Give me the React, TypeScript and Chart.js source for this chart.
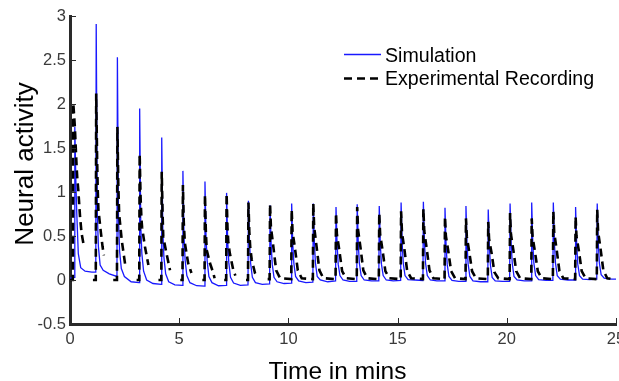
import React, { useEffect, useRef } from "react";
import { Chart, registerables } from "chart.js";

Chart.register(...registerables);

// ---------- data ----------
const seriesNames = ["Simulation", "Experimental Recording"];
const xTickValues = [0, 5, 10, 15, 20, 25];
const yTickValues = [-0.5, 0, 0.5, 1, 1.5, 2, 2.5, 3];
const xTitle = "Time in mins";
const yTitle = "Neural activity";

// Simulation trace: [time (min), activity]
const simulation: [number, number][] = [
  [0, 0.02], [0.2, 0.03], [0.22, 1.74], [0.27, 1.1], [0.31, 0.76], [0.38, 0.3], [0.49, 0.14], [0.69, 0.1], [1.0, 0.09], [1.18, 0.09],
  [1.2, 2.91], [1.25, 0.76], [1.3, 0.38], [1.38, 0.17], [1.52, 0.11], [1.8, 0.07], [2.15, 0.04],
  [2.17, 2.53], [2.22, 0.7], [2.27, 0.33], [2.35, 0.13], [2.49, 0.04], [2.8, -0.02], [3.17, -0.03],
  [3.19, 1.95], [3.24, 0.62], [3.29, 0.3], [3.37, 0.1], [3.51, 0.0], [3.8, -0.04], [4.18, -0.05],
  [4.2, 1.62], [4.25, 0.55], [4.3, 0.26], [4.38, 0.07], [4.52, -0.02], [4.8, -0.055], [5.15, -0.06],
  [5.17, 1.24], [5.22, 0.5], [5.27, 0.23], [5.35, 0.05], [5.49, -0.03], [5.8, -0.065], [6.16, -0.07],
  [6.18, 1.12], [6.23, 0.47], [6.28, 0.22], [6.36, 0.04], [6.5, -0.03], [6.8, -0.065], [7.15, -0.06],
  [7.17, 0.99], [7.22, 0.44], [7.27, 0.2], [7.35, 0.03], [7.49, -0.035], [7.8, -0.06], [8.15, -0.055],
  [8.17, 0.9], [8.22, 0.42], [8.27, 0.19], [8.35, 0.03], [8.49, -0.03], [8.8, -0.05], [9.14, -0.045],
  [9.16, 0.85], [9.21, 0.4], [9.26, 0.18], [9.34, 0.03], [9.48, -0.02], [9.8, -0.04], [10.13, -0.035],
  [10.15, 0.87], [10.2, 0.41], [10.25, 0.19], [10.33, 0.04], [10.47, -0.01], [10.8, -0.03], [11.12, -0.025],
  [11.14, 0.87], [11.19, 0.41], [11.24, 0.19], [11.32, 0.04], [11.46, 0.0], [11.8, -0.02], [12.16, -0.01],
  [12.18, 0.83], [12.23, 0.4], [12.28, 0.18], [12.36, 0.05], [12.5, 0.0], [12.8, -0.015], [13.13, -0.015],
  [13.15, 0.86], [13.2, 0.41], [13.25, 0.19], [13.33, 0.05], [13.47, 0.0], [13.8, -0.01], [14.14, -0.01],
  [14.16, 0.84], [14.21, 0.4], [14.26, 0.18], [14.34, 0.05], [14.48, 0.0], [14.8, -0.01], [15.14, -0.005],
  [15.16, 0.88], [15.21, 0.41], [15.26, 0.19], [15.34, 0.05], [15.48, 0.005], [15.8, 0.0], [16.16, -0.005],
  [16.18, 0.89], [16.23, 0.42], [16.28, 0.19], [16.36, 0.05], [16.5, 0.0], [16.8, -0.01], [17.15, -0.01],
  [17.17, 0.82], [17.22, 0.39], [17.27, 0.18], [17.35, 0.04], [17.49, -0.005], [17.8, -0.015], [18.11, -0.015],
  [18.13, 0.84], [18.18, 0.4], [18.23, 0.18], [18.31, 0.04], [18.45, -0.01], [18.8, -0.02], [19.13, -0.02],
  [19.15, 0.8], [19.2, 0.38], [19.25, 0.17], [19.33, 0.03], [19.47, -0.01], [19.8, -0.015], [20.13, -0.015],
  [20.15, 0.87], [20.2, 0.41], [20.25, 0.19], [20.33, 0.04], [20.47, 0.0], [20.8, -0.01], [21.12, -0.01],
  [21.14, 0.88], [21.19, 0.42], [21.24, 0.19], [21.32, 0.05], [21.46, 0.005], [21.8, -0.005], [22.11, -0.005],
  [22.13, 0.88], [22.18, 0.42], [22.23, 0.19], [22.31, 0.05], [22.45, 0.01], [22.8, 0.0], [23.13, 0.0],
  [23.15, 0.83], [23.2, 0.4], [23.25, 0.18], [23.33, 0.05], [23.47, 0.01], [23.8, 0.005], [24.12, 0.01],
  [24.14, 0.87], [24.19, 0.41], [24.24, 0.19], [24.32, 0.06], [24.46, 0.02], [24.8, 0.01], [25, 0.01],
];

// Experimental recording: [time (min), activity]; null = no recorded sample
const experimental: [number, number | null][] = [
  [0, 0], [0.13, 0], [0.15, 2.01], [0.22, 1.75], [0.3, 1.3], [0.33, 1.17], [0.38, 1.02], [0.46, 0.72], [0.53, 0.53], [0.61, 0.42], [0.7, null],
  [1.05, 0], [1.18, 0], [1.2, 2.12], [1.24, 1.4], [1.27, 1.02], [1.3, 0.8], [1.4, 0.57], [1.49, 0.38], [1.55, 0.28], [1.6, null],
  [1.98, 0], [2.15, 0], [2.17, 1.74], [2.21, 1.1], [2.25, 0.75], [2.37, 0.45], [2.54, 0.15], [2.6, null],
  [3.05, 0], [3.17, 0], [3.19, 1.43], [3.23, 0.95], [3.27, 0.7], [3.3, 0.6], [3.43, 0.38], [3.59, 0.17], [3.65, null],
  [4.05, 0], [4.18, 0], [4.2, 1.23], [4.24, 0.75], [4.27, 0.49], [4.42, 0.3], [4.58, 0.11], [4.65, null],
  [5.05, 0], [5.15, 0], [5.17, 1.08], [5.21, 0.65], [5.26, 0.42], [5.41, 0.19], [5.56, 0.08], [5.6, null],
  [6.06, 0], [6.16, 0], [6.18, 0.97], [6.22, 0.55], [6.26, 0.34], [6.41, 0.19], [6.56, 0.08], [6.62, 0.02], [6.7, null],
  [7.06, 0], [7.15, 0], [7.17, 0.98], [7.21, 0.6], [7.25, 0.42], [7.32, 0.3], [7.47, 0.12], [7.57, 0.05], [7.65, null],
  [8.06, 0], [8.15, 0], [8.17, 0.88], [8.21, 0.55], [8.25, 0.38], [8.32, 0.23], [8.47, 0.08], [8.57, 0.03], [8.65, null],
  [9.05, 0.01], [9.14, 0.01], [9.16, 0.86], [9.2, 0.6], [9.31, 0.38], [9.44, 0.11], [9.62, 0.02], [10.13, 0.01],
  [10.15, 0.8], [10.19, 0.55], [10.3, 0.36], [10.43, 0.11], [10.61, 0.02], [11.12, 0.01],
  [11.14, 0.87], [11.18, 0.6], [11.29, 0.38], [11.42, 0.11], [11.6, 0.02], [12.16, 0.01],
  [12.18, 0.76], [12.22, 0.52], [12.33, 0.34], [12.46, 0.1], [12.64, 0.02], [13.13, 0.01],
  [13.15, 0.83], [13.19, 0.57], [13.3, 0.37], [13.43, 0.11], [13.61, 0.02], [14.14, 0.01],
  [14.16, 0.76], [14.2, 0.52], [14.31, 0.34], [14.44, 0.1], [14.62, 0.02], [15.14, 0.01],
  [15.16, 0.78], [15.2, 0.54], [15.31, 0.35], [15.44, 0.1], [15.62, 0.02], [16.16, 0.01],
  [16.18, 0.81], [16.22, 0.56], [16.33, 0.36], [16.46, 0.11], [16.64, 0.02], [17.15, 0.01],
  [17.17, 0.72], [17.21, 0.5], [17.32, 0.33], [17.45, 0.1], [17.63, 0.02], [18.11, 0.01],
  [18.13, 0.7], [18.17, 0.49], [18.28, 0.32], [18.41, 0.1], [18.59, 0.02], [19.13, 0.01],
  [19.15, 0.66], [19.19, 0.46], [19.3, 0.31], [19.43, 0.09], [19.61, 0.02], [20.13, 0.01],
  [20.15, 0.76], [20.19, 0.52], [20.3, 0.34], [20.43, 0.1], [20.61, 0.02], [21.12, 0.01],
  [21.14, 0.7], [21.18, 0.49], [21.29, 0.32], [21.42, 0.1], [21.6, 0.02], [22.11, 0.01],
  [22.13, 0.78], [22.17, 0.54], [22.28, 0.35], [22.41, 0.1], [22.59, 0.02], [23.13, 0.01],
  [23.15, 0.72], [23.19, 0.5], [23.3, 0.33], [23.43, 0.1], [23.61, 0.02], [24.12, 0.01],
  [24.14, 0.8], [24.18, 0.55], [24.29, 0.36], [24.42, 0.11], [24.6, 0.02], [24.9, 0.01],
];

// ---------- styling ----------
const FONT = "'Liberation Sans', Arial, sans-serif";
const AXIS_COLOR = "#2a2a2a";
const TICK_TEXT = "#3a3a3a";
const SIM_COLOR = "rgb(25, 25, 255)";
const EXP_COLOR = "#000000";
const EXP_DASH = [8, 5];

const overlayPlugin = {
  id: "matlabOverlay",
  afterDraw(chart: any) {
    const { ctx, chartArea, scales } = chart;
    const { left, right, top, bottom } = chartArea;
    ctx.save();
    // inward tick marks
    ctx.strokeStyle = AXIS_COLOR;
    ctx.lineWidth = 1;
    ctx.setLineDash([]);
    ctx.beginPath();
    for (const v of yTickValues) {
      const y = Math.round(scales.y.getPixelForValue(v)) + 0.5;
      ctx.moveTo(left, y);
      ctx.lineTo(left + 6, y);
    }
    for (const v of xTickValues) {
      const x = Math.round(scales.x.getPixelForValue(v)) + 0.5;
      ctx.moveTo(x, bottom);
      ctx.lineTo(x, bottom - 6);
    }
    ctx.stroke();

    // legend
    const lx0 = left + 274;
    const lx1 = left + 311;
    const tx = left + 315;
    ctx.lineWidth = 1.4;
    ctx.strokeStyle = SIM_COLOR;
    ctx.beginPath();
    ctx.moveTo(lx0, top + 38.5);
    ctx.lineTo(lx1, top + 38.5);
    ctx.stroke();
    ctx.lineWidth = 2.6;
    ctx.strokeStyle = EXP_COLOR;
    ctx.setLineDash(EXP_DASH);
    ctx.beginPath();
    ctx.moveTo(lx0, top + 62.5);
    ctx.lineTo(lx1, top + 62.5);
    ctx.stroke();
    ctx.setLineDash([]);
    ctx.fillStyle = "#000";
    ctx.font = `19.6px ${FONT}`;
    ctx.textAlign = "left";
    ctx.textBaseline = "alphabetic";
    ctx.fillText(seriesNames[0], tx, top + 46);
    ctx.fillText(seriesNames[1], tx, top + 69);

    // axis titles
    ctx.font = `24.5px ${FONT}`;
    ctx.textAlign = "center";
    ctx.fillText(xTitle, (left + right) / 2 - 5.5, 379);
    ctx.save();
    ctx.font = `26px ${FONT}`;
    ctx.translate(33, (top + bottom) / 2 - 6);
    ctx.rotate(-Math.PI / 2);
    ctx.fillText(yTitle, 0, 0);
    ctx.restore();
    ctx.restore();
  },
};

export default function App() {
  const canvasRef = useRef<HTMLCanvasElement | null>(null);

  useEffect(() => {
    if (!canvasRef.current) return;
    const chart = new Chart(canvasRef.current, {
      type: "line",
      data: {
        datasets: [
          {
            label: seriesNames[1],
            data: experimental.map(([x, y]) => ({ x, y })),
            borderColor: EXP_COLOR,
            borderWidth: 2.6,
            borderDash: EXP_DASH,
            pointRadius: 0,
            tension: 0,
            spanGaps: false,
            order: 0,
          },
          {
            label: seriesNames[0],
            data: simulation.map(([x, y]) => ({ x, y })),
            borderColor: SIM_COLOR,
            borderWidth: 1.3,
            pointRadius: 0,
            tension: 0,
            order: 1,
          },
        ],
      },
      options: {
        animation: false,
        responsive: false,
        maintainAspectRatio: false,
        devicePixelRatio: 1,
        layout: { padding: { left: 0, right: 3, top: 16, bottom: 0 } },
        plugins: {
          legend: { display: false },
          tooltip: { enabled: false },
        },
        scales: {
          x: {
            type: "linear",
            min: 0,
            max: 25,
            grid: { display: false, drawTicks: false },
            border: { display: true, color: AXIS_COLOR, width: 3 },
            afterBuildTicks: (s: any) => {
              s.ticks = xTickValues.map((value) => ({ value }));
            },
            ticks: {
              color: TICK_TEXT,
              font: { family: FONT, size: 16.5 },
              padding: 6,
              maxRotation: 0,
              autoSkip: false,
              callback: (v: any) => String(v),
            },
            afterFit: (s: any) => {
              s.height = 57;
              s.paddingLeft = 0;
              s.paddingRight = 0;
            },
          },
          y: {
            type: "linear",
            min: -0.5,
            max: 3,
            grid: { display: false, drawTicks: false },
            border: { display: true, color: AXIS_COLOR, width: 3 },
            afterBuildTicks: (s: any) => {
              s.ticks = yTickValues.map((value) => ({ value }));
            },
            ticks: {
              color: TICK_TEXT,
              font: { family: FONT, size: 16.5 },
              padding: 4,
              autoSkip: false,
              callback: (v: any) => String(v),
            },
            afterFit: (s: any) => {
              s.width = 70;
              s.paddingTop = 0;
              s.paddingBottom = 0;
            },
          },
        },
      },
      plugins: [overlayPlugin],
    });
    return () => chart.destroy();
  }, []);

  return (
    <div style={{ position: "fixed", left: 0, top: 0, width: 619, height: 381, background: "#fff" }}>
      <canvas ref={canvasRef} width={619} height={381} style={{ display: "block", width: 619, height: 381 }} />
    </div>
  );
}
